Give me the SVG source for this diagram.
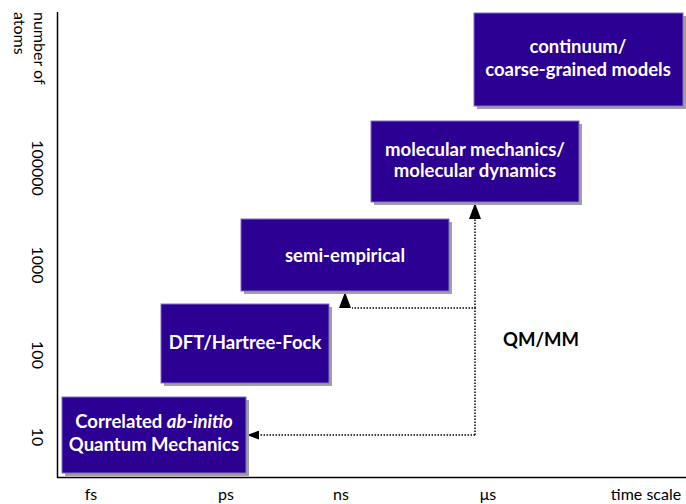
<svg xmlns="http://www.w3.org/2000/svg" width="686" height="504" viewBox="0 0 686 504">
<style>
.box{fill:#2b0092;stroke:#8070c8;stroke-width:1}
.sh{fill:#a0a0a0}
.bt{fill:#ffffff;font-family:Lato,"Open Sans",sans-serif;font-weight:bold;font-size:18.5px;text-anchor:middle}
.ax{font-family:Lato,"Open Sans",sans-serif;font-size:16px;fill:#000}
.con{fill:none;stroke:#000;stroke-width:1.5;stroke-dasharray:1.5 1.5}
</style>
<defs>
<marker id="ah" markerUnits="userSpaceOnUse" markerWidth="16" markerHeight="12" refX="16" refY="6" orient="auto">
<path d="M0,0 L16,6 L0,12 z" fill="#000"/>
</marker>
<marker id="ahs" markerUnits="userSpaceOnUse" markerWidth="12" markerHeight="9" refX="12" refY="4.5" orient="auto">
<path d="M0,0 L12,4.5 L0,9 z" fill="#000"/>
</marker>
</defs>
<g id="axes">
<line x1="57.5" y1="12" x2="57.5" y2="478" stroke="#000" stroke-width="1.5"/>
<line x1="57" y1="477.5" x2="686" y2="477.5" stroke="#000" stroke-width="1.5"/>
<text class="ax" transform="translate(34,12) rotate(90)">number of</text>
<text class="ax" transform="translate(14,12) rotate(90)">atoms</text>
<text class="ax" text-anchor="middle" transform="translate(32,168) rotate(90)">100000</text>
<text class="ax" text-anchor="middle" transform="translate(32,265) rotate(90)">1000</text>
<text class="ax" text-anchor="middle" transform="translate(32,355) rotate(90)">100</text>
<text class="ax" text-anchor="middle" transform="translate(32,437) rotate(90)">10</text>
<text class="ax" x="91" y="500" text-anchor="middle">fs</text>
<text class="ax" x="226" y="500" text-anchor="middle">ps</text>
<text class="ax" x="341" y="500" text-anchor="middle">ns</text>
<text class="ax" x="488" y="500" text-anchor="middle">μs</text>
<text class="ax" x="646" y="500" text-anchor="middle">time scale</text>
</g>
<g id="connectors">
<polyline class="con" points="475,435 475,308 352,308"/>
<line class="con" x1="475" y1="308" x2="475" y2="216"/>
<line class="con" x1="475" y1="435" x2="256" y2="435"/>
<line x1="345" y1="309" x2="345" y2="292" stroke="none" marker-end="url(#ah)"/>
<line x1="475" y1="220" x2="475" y2="203" stroke="none" marker-end="url(#ah)"/>
<line x1="258" y1="435" x2="247" y2="435" stroke="none" marker-end="url(#ahs)"/>
</g>
<g id="qmmm"><text x="541" y="346" text-anchor="middle" font-family="Lato,'Open Sans',sans-serif" font-weight="bold" font-size="18.5" fill="#000">QM/MM</text></g>
<g id="correlated">
<rect class="sh" x="65" y="400" width="184" height="76"/>
<rect class="box" x="62" y="397" width="184" height="76"/>
<text class="bt" x="154" y="428">Correlated <tspan font-style="italic">ab-initio</tspan></text>
<text class="bt" x="154" y="451">Quantum Mechanics</text>
</g>
<g id="dft">
<rect class="sh" x="164" y="307" width="168" height="79"/>
<rect class="box" x="161" y="304" width="168" height="79"/>
<text class="bt" x="245" y="349">DFT/Hartree-Fock</text>
</g>
<g id="semi">
<rect class="sh" x="244" y="222" width="208" height="72"/>
<rect class="box" x="241" y="219" width="208" height="72"/>
<text class="bt" x="345" y="262">semi-empirical</text>
</g>
<g id="mm">
<rect class="sh" x="374" y="124" width="208" height="81"/>
<rect class="box" x="371" y="121" width="208" height="81"/>
<text class="bt" x="475" y="156">molecular mechanics/</text>
<text class="bt" x="475" y="177">molecular dynamics</text>
</g>
<g id="continuum">
<rect class="sh" x="477" y="16" width="209" height="93"/>
<rect class="box" x="474" y="13" width="209" height="93"/>
<text class="bt" x="578" y="53">continuum/</text>
<text class="bt" x="578" y="76">coarse-grained models</text>
</g>
</svg>
